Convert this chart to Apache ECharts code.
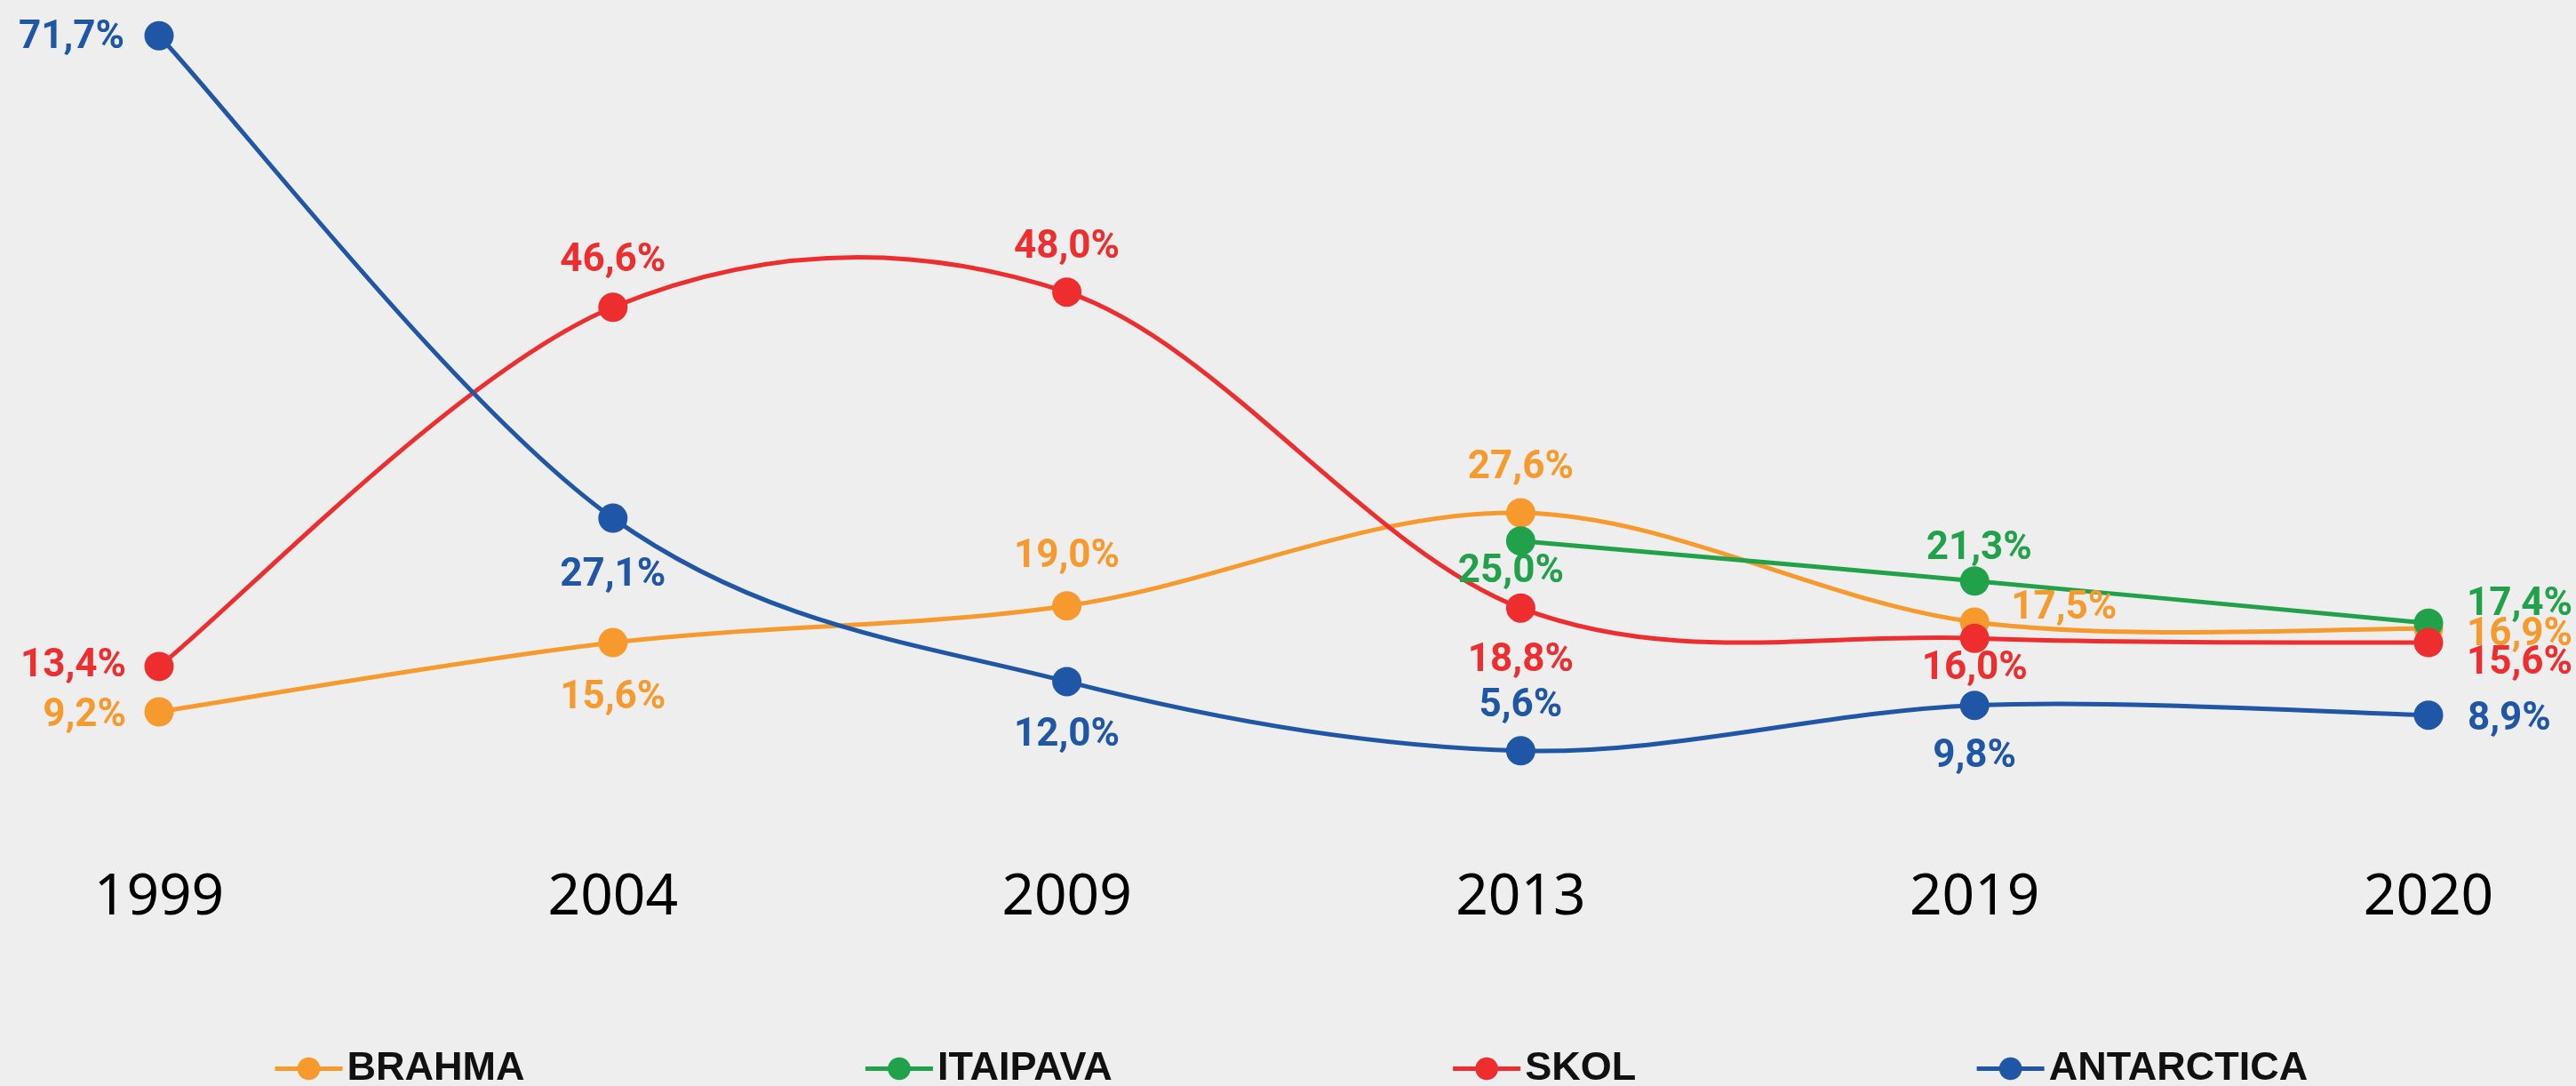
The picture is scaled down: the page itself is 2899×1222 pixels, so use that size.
<!DOCTYPE html>
<html>
<head>
<meta charset="utf-8">
<script src="https://cdn.jsdelivr.net/npm/echarts@6/dist/echarts.min.js"></script>
<style>
html,body{margin:0;padding:0;background:#eeeeee;}
#chart{width:2899px;height:1222px;}
</style>
</head>
<body>
<div id="chart"></div>
<script>
var years = ["1999", "2004", "2009", "2013", "2019", "2020"];
var brahma = [9.2, 15.6, 19.0, 27.6, 17.5, 16.9];
var itaipava = ["-", "-", "-", 25.0, 21.3, 17.4];
var skol = [13.4, 46.6, 48.0, 18.8, 16.0, 15.6];
var antarctica = [71.7, 27.1, 12.0, 5.6, 9.8, 8.9];
var seriesNames = ["BRAHMA", "ITAIPAVA", "SKOL", "ANTARCTICA"];

var colors = ["#f79a2e", "#21a24a", "#ee2e2e", "#1f56a5"];

// label placement per point: [dx, dy, align]
var labelPos = {
	"BRAHMA": [[-37, 5, "right"], [0, 63, "center"], [0, -55, "center"], [0, -50, "center"], [41, -15, "left"], [43, 8, "left"]],
	"ITAIPAVA": [null, null, null, [-11, 35, "center"], [5, -36, "center"], [43, -20, "left"]],
	"SKOL": [[-37, 0, "right"], [0, -52, "center"], [0, -50, "center"], [0, 60, "center"], [0, 35, "center"], [43, 24, "left"]],
	"ANTARCTICA": [[-39, 3, "right"], [0, 65, "center"], [0, 61, "center"], [0, -50, "center"], [0, 58, "center"], [44, 5, "left"]]
};

function fmt(v){
	return v.toFixed(1).replace(".", ",") + "%";
}

// curva tipo catmull-rom (como no excel), desenhada com as coordenadas do eixo
function curveSeries(name, values, color){
	var pts = [];
	for(var i=0;i<values.length;i++){
		if(values[i] !== "-") pts.push([i, values[i]]);
	}
	return {
		name: name + "_curva",
		type: "custom",
		coordinateSystem: "cartesian2d",
		silent: true,
		animation: false,
		data: pts,
		encode: { x: 0, y: 1 },
		renderItem: function(params, api){
			if(params.dataIndex !== 0) return null;
			var c = [];
			for(var k=0;k<pts.length;k++){
				c.push(api.coord([pts[k][0], pts[k][1]]));
			}
			var children = [];
			for(var k=0;k<c.length-1;k++){
				var p0 = c[k-1] || c[k];
				var p1 = c[k];
				var p2 = c[k+1];
				var p3 = c[k+2] || c[k+1];
				children.push({
					type: "bezierCurve",
					shape: {
						x1: p1[0], y1: p1[1],
						x2: p2[0], y2: p2[1],
						cpx1: p1[0] + (p2[0]-p0[0])/6, cpy1: p1[1] + (p2[1]-p0[1])/6,
						cpx2: p2[0] - (p3[0]-p1[0])/6, cpy2: p2[1] - (p3[1]-p1[1])/6
					},
					style: { fill: null, stroke: color, lineWidth: 5 }
				});
			}
			return { type: "group", children: children };
		}
	};
}

function pointSeries(name, values, color){
	var pos = labelPos[name];
	var data = [];
	for(var i=0;i<values.length;i++){
		if(values[i] === "-"){
			data.push("-");
			continue;
		}
		var p = pos[i];
		data.push({
			value: values[i],
			label: {
				position: ["50%", "50%"],
				offset: [p[0], p[1]],
				align: p[2],
				verticalAlign: "middle"
			}
		});
	}
	return {
		name: name,
		type: "line",
		symbol: "circle",
		symbolSize: 33,
		data: data,
		itemStyle: { color: color },
		lineStyle: { color: color, width: 5, opacity: 0 },
		label: {
			show: true,
			color: color,
			fontFamily: "Roboto",
			fontWeight: "bold",
			fontSize: 44,
			formatter: function(p){ return fmt(p.value); }
		},
		emphasis: { disabled: true },
		animation: false
	};
}

var legendData = [];
for(var i=0;i<seriesNames.length;i++){
	legendData.push({
		name: seriesNames[i],
		itemStyle: { color: colors[i] },
		lineStyle: { color: colors[i], width: 5, opacity: 1 }
	});
}

var myChart = echarts.init(document.getElementById("chart"));
myChart.setOption({
	backgroundColor: "#eeeeee",
	animation: false,
	grid: { left: 179, right: 166, top: 0, bottom: 309, containLabel: false },
	legend: {
		left: 302,
		top: 1175,
		itemWidth: 76,
		itemHeight: 32,
		itemGap: 381,
		textStyle: { fontFamily: "Liberation Sans", fontWeight: "bold", fontSize: 45, color: "#111111" },
		data: legendData
	},
	xAxis: {
		type: "category",
		boundaryGap: false,
		data: years,
		axisLine: { show: false },
		axisTick: { show: false },
		splitLine: { show: false },
		axisLabel: { margin: 66, fontFamily: "Noto Sans", fontSize: 64, color: "#000000" }
	},
	yAxis: {
		type: "value",
		min: 0,
		max: 75,
		show: false,
		splitLine: { show: false }
	},
	series: [
		curveSeries("BRAHMA", brahma, colors[0]),
		pointSeries("BRAHMA", brahma, colors[0]),
		curveSeries("ITAIPAVA", itaipava, colors[1]),
		pointSeries("ITAIPAVA", itaipava, colors[1]),
		curveSeries("SKOL", skol, colors[2]),
		pointSeries("SKOL", skol, colors[2]),
		curveSeries("ANTARCTICA", antarctica, colors[3]),
		pointSeries("ANTARCTICA", antarctica, colors[3])
	]
});
</script>
</body>
</html>
